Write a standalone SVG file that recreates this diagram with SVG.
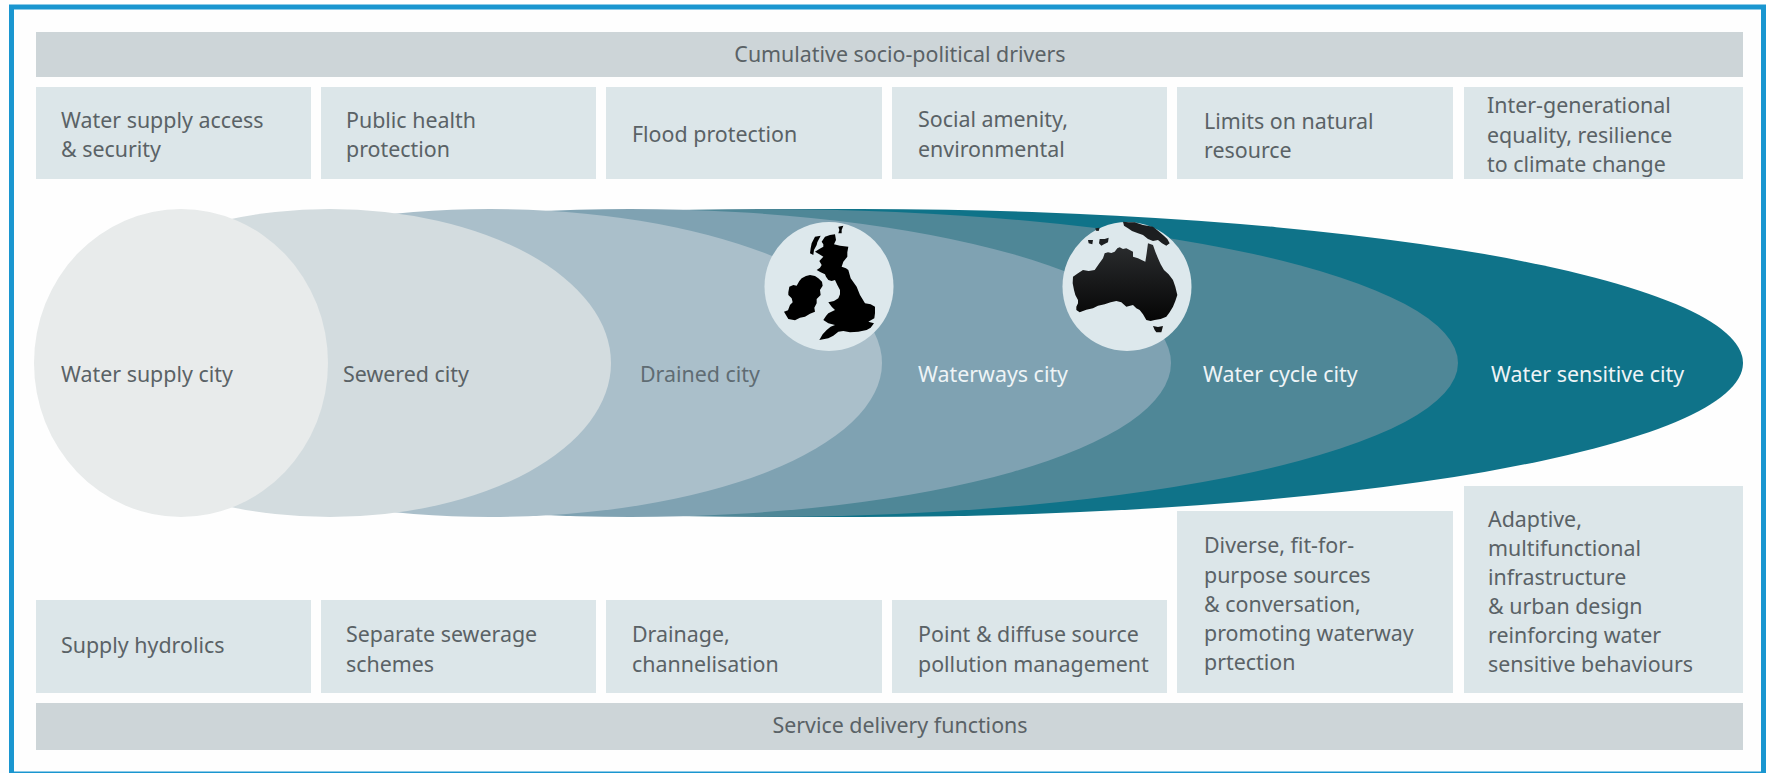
<svg xmlns="http://www.w3.org/2000/svg" width="1766" height="773" viewBox="0 0 1766 773">
<style>
text{font-family:"Noto Sans","Open Sans","Liberation Sans",sans-serif;font-size:21.4px;fill:#5a6266}
.bar{fill:#cdd5d8}
.box{fill:#dce6e9}
.lt{fill:#eef4f6}
.c{text-anchor:middle}
.globe{fill:#dde8ec}
</style>
<defs>
<linearGradient id="aus" x1="0" y1="0" x2="0" y2="1"><stop offset="0" stop-color="#2b2d2f"/><stop offset="1" stop-color="#050505"/></linearGradient>
</defs>
<rect width="1766" height="773" fill="#fefefe"/>
<rect x="11.500" y="7" width="1752" height="767" fill="none" stroke="#1a96d0" stroke-width="5"/>

<g id="city-sensitive"><path d="M760,209 H860 A883,154 0 0 1 860,517 H760 Z" fill="#0f7389"/><text class="lt" x="1491" y="382">Water sensitive city</text></g>
<g id="city-cycle"><ellipse cx="760" cy="363" rx="698" ry="154" fill="#4f8797"/><text class="lt" x="1203" y="382">Water cycle city</text></g>
<g id="city-waterways"><ellipse cx="630" cy="363" rx="541" ry="154" fill="#7fa2b2"/><text class="lt" x="918" y="382">Waterways city</text></g>
<g id="city-drained"><ellipse cx="490" cy="363" rx="392" ry="154" fill="#aabfca"/><text x="640" y="382" style="fill:#5f6c73">Drained city</text></g>
<g id="city-sewered"><ellipse cx="330" cy="363" rx="281" ry="154" fill="#d3dcdf"/><text x="343" y="382">Sewered city</text></g>
<g id="city-supply"><ellipse cx="181" cy="363" rx="147" ry="154" fill="#e8ebeb"/><text x="61" y="382">Water supply city</text></g>

<g id="globe-uk">
<circle class="globe" cx="829" cy="286.500" r="64.500"/>
<g transform="translate(760,215) scale(.3333)" fill="#000">
<path d="M88,215 100,210 110,212 118,198 125,190 138,183 150,180 165,183 175,190 186,200 188,212 180,225 182,240 170,252 170,265 163,278 165,290 150,296 135,305 120,308 105,316 85,312 72,290 84,286 90,270 98,262 95,250 85,240 85,232Z"/>
<path d="M195,65 210,60 225,58 228,75 222,88 240,92 265,95 262,112 262,125 250,140 245,155 258,160 265,165 272,190 290,215 300,240 315,265 332,268 345,275 345,295 343,310 325,320 342,325 332,338 320,345 295,350 270,352 250,348 235,350 220,362 205,370 178,375 188,358 200,345 212,335 225,330 205,325 190,315 198,303 205,295 225,285 215,275 205,262 222,258 235,250 240,238 240,225 232,210 225,195 215,198 205,195 198,185 195,178 182,172 170,165 180,158 185,150 178,138 190,125 178,118 165,110 178,102 190,95 190,88 185,80Z"/>
<path d="M165,65 182,62 172,82 170,90 162,105 160,120 150,115 152,100 155,85Z"/>
<path d="M235,35 250,32 245,45 245,55 235,55 238,45Z"/>
</g>
</g>
<g id="globe-australia">
<circle class="globe" cx="1127" cy="286.500" r="64.500"/>
<g transform="translate(1058,215) scale(.3333)">
<path fill="url(#aus)" d="M45,185 60,175 75,165 92,168 110,165 122,148 135,130 140,115 150,112 160,114 170,110 178,100 185,97 195,102 205,100 215,105 225,110 225,125 240,130 262,140 266,115 270,85 285,90 292,110 300,130 308,148 318,165 332,178 345,195 352,215 358,240 352,258 345,275 335,292 325,305 308,312 290,315 278,318 265,315 255,298 245,285 235,280 225,270 205,275 190,262 175,258 158,262 140,268 120,272 105,280 85,284 65,292 55,285 55,275 60,265 60,255 52,240 48,225 44,205Z"/>
<path fill="#111" d="M285,333 300,336 315,333 312,345 310,352 295,352 290,345Z"/>
<path fill="#1c1e20" d="M195,20 212,22 230,22 255,30 285,35 300,47 315,60 328,72 335,85 325,92 312,85 300,75 285,78 270,72 255,60 240,55 222,48 210,40 198,32Z"/>
<path fill="#1c1e20" d="M125,72 140,72 152,68 150,82 138,88 130,92 123,85Z"/>
<path fill="#1c1e20" d="M90,75 105,75 103,88 92,85Z"/>
<path fill="#1c1e20" d="M112,40 125,38 122,48 114,47Z"/>
</g>
</g>

<g id="bar-drivers"><rect class="bar" x="36" y="32" width="1707" height="45"/><text class="c" x="900" y="62">Cumulative socio-political drivers</text></g>
<g id="driver-1"><rect class="box" x="36" y="87" width="275" height="92"/><text x="61" y="128">Water supply access</text><text x="61" y="157">&amp; security</text></g>
<g id="driver-2"><rect class="box" x="321" y="87" width="275" height="92"/><text x="346" y="128">Public health</text><text x="346" y="157">protection</text></g>
<g id="driver-3"><rect class="box" x="606" y="87" width="276" height="92"/><text x="632" y="142">Flood protection</text></g>
<g id="driver-4"><rect class="box" x="892" y="87" width="275" height="92"/><text x="918" y="127">Social amenity,</text><text x="918" y="157">environmental</text></g>
<g id="driver-5"><rect class="box" x="1177" y="87" width="276" height="92"/><text x="1204" y="129">Limits on natural</text><text x="1204" y="158">resource</text></g>
<g id="driver-6"><rect class="box" x="1464" y="87" width="279" height="92"/><text x="1487" y="113">Inter-generational</text><text x="1487" y="143">equality, resilience</text><text x="1487" y="172">to climate change</text></g>

<g id="service-1"><rect class="box" x="36" y="600" width="275" height="93"/><text x="61" y="653">Supply hydrolics</text></g>
<g id="service-2"><rect class="box" x="321" y="600" width="275" height="93"/><text x="346" y="642">Separate sewerage</text><text x="346" y="672">schemes</text></g>
<g id="service-3"><rect class="box" x="606" y="600" width="276" height="93"/><text x="632" y="642">Drainage,</text><text x="632" y="672">channelisation</text></g>
<g id="service-4"><rect class="box" x="892" y="600" width="275" height="93"/><text x="918" y="642">Point &amp; diffuse source</text><text x="918" y="672">pollution management</text></g>
<g id="service-5"><rect class="box" x="1177" y="511" width="276" height="182"/><text x="1204" y="553">Diverse, fit-for-</text><text x="1204" y="583">purpose sources</text><text x="1204" y="612">&amp; conversation,</text><text x="1204" y="641">promoting waterway</text><text x="1204" y="670">prtection</text></g>
<g id="service-6"><rect class="box" x="1464" y="486" width="279" height="207"/><text x="1488" y="527">Adaptive,</text><text x="1488" y="556">multifunctional</text><text x="1488" y="585">infrastructure</text><text x="1488" y="614">&amp; urban design</text><text x="1488" y="643">reinforcing water</text><text x="1488" y="672">sensitive behaviours</text></g>
<g id="bar-service"><rect class="bar" x="36" y="703" width="1707" height="47"/><text class="c" x="900" y="733">Service delivery functions</text></g>
</svg>
